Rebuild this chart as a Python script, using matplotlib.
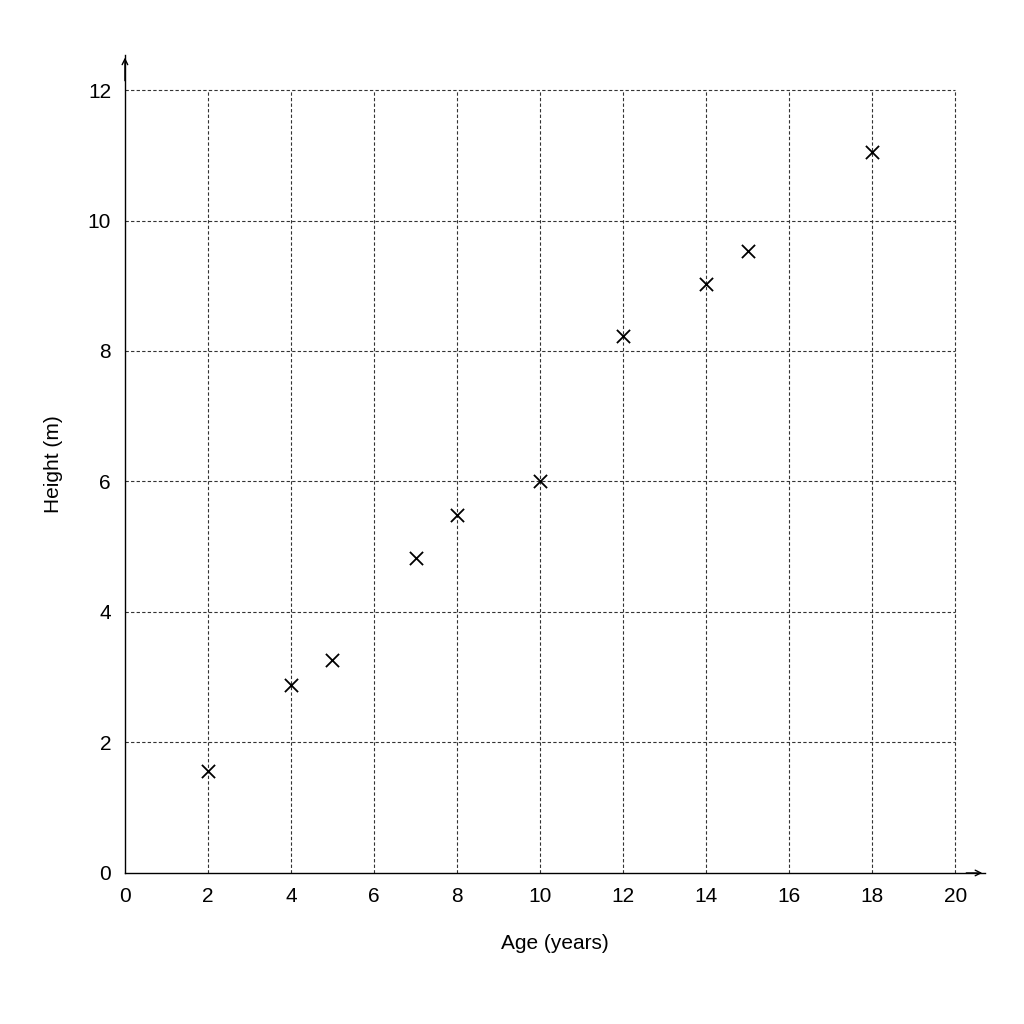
import matplotlib
matplotlib.use("Agg")
import matplotlib.pyplot as plt

age = [2, 4, 5, 7, 8, 10, 12, 14, 15, 18]
height = [1.56, 2.88, 3.26, 4.83, 5.49, 6.0, 8.23, 9.03, 9.53, 11.05]
xticks = [0, 2, 4, 6, 8, 10, 12, 14, 16, 18, 20]
yticks = [0, 2, 4, 6, 8, 10, 12]

plt.rcParams['font.family'] = ['Liberation Sans', 'DejaVu Sans']
fig = plt.figure(figsize=(10.24, 10.24), dpi=100)
ax = fig.add_axes([0.122, 0.1475, 0.84, 0.799])
ax.set_xlim(0, 20.72)
ax.set_ylim(0, 12.54)
for s in ['top', 'right']:
    ax.spines[s].set_visible(False)
ax.spines['left'].set_linewidth(1)
ax.spines['bottom'].set_linewidth(1)
ax.vlines(xticks[1:], 0, 12, colors='#333333', linestyles=(0, (3, 2)), linewidth=0.8)
ax.hlines(yticks[1:], 0, 20, colors='#333333', linestyles=(0, (3, 2)), linewidth=0.8)
ax.plot(1, 0, '>', color='black', transform=ax.transAxes, clip_on=False, markersize=0)
ax.annotate('', xy=(20.72, 0), xytext=(20.2, 0), arrowprops=dict(arrowstyle='->', lw=1, color='black'), annotation_clip=False)
ax.annotate('', xy=(0, 12.54), xytext=(0, 12.1), arrowprops=dict(arrowstyle='->', lw=1, color='black'), annotation_clip=False)
ax.scatter(age, height, marker='x', s=90, color='black', linewidths=1.3, zorder=3)
ax.set_xticks(xticks)
ax.set_yticks(yticks)
ax.tick_params(length=0, labelsize=15, pad=10)
ax.set_xlabel('Age (years)', fontsize=15, labelpad=20)
ax.set_ylabel('Height (m)', fontsize=15, labelpad=18)
fig.savefig('out.png', dpi=100, facecolor='white')
